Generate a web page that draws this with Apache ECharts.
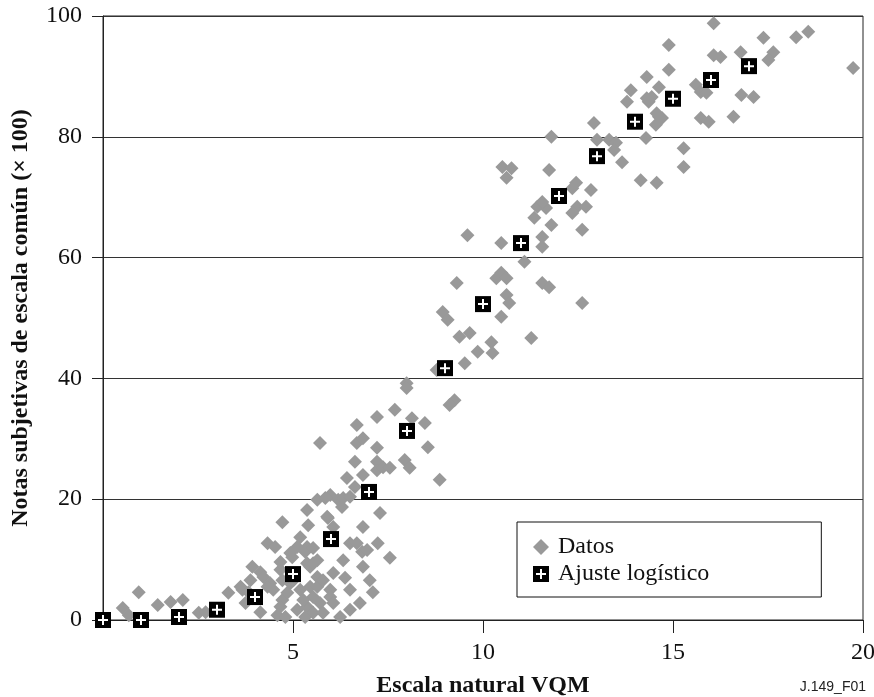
<!DOCTYPE html>
<html>
<head>
<meta charset="utf-8">
<title>J.149_F01</title>
<script src="https://cdn.jsdelivr.net/npm/echarts@6/dist/echarts.min.js"></script>
<style>
  html, body { margin: 0; padding: 0; background: #fff; }
  #chart { width: 874px; height: 697px; }
</style>
</head>
<body>
<div id="chart"></div>
<script>
// Datos (escala natural VQM, notas subjetivas x 100)
const datosVqm = [
  0.52, 0.68, 0.94, 1.44, 1.78, 2.10, 2.52, 2.70, 3.30, 3.67, 3.75, 3.62, 3.83, 3.88, 3.93, 4.14, 4.14, 4.22,
  4.33, 4.53, 4.40, 4.72, 4.33, 4.48, 4.67, 4.67, 4.72, 4.72, 4.67, 4.59, 4.80, 4.85, 4.93, 4.93, 4.98, 5.01,
  5.11, 5.19, 5.19, 5.11, 5.32, 5.37, 5.32, 5.37, 5.40, 5.37, 5.37, 5.45, 5.45, 5.53, 5.53, 5.53, 5.53, 5.64,
  5.64, 5.64, 5.64, 5.71, 5.71, 5.79, 5.79, 5.90, 5.98, 5.98, 5.98, 6.06, 6.06, 6.06, 6.19, 6.24, 6.32, 6.32,
  6.29, 6.37, 6.50, 6.50, 6.50, 6.50, 6.68, 6.76, 6.82, 6.84, 6.84, 6.95, 7.02, 7.10, 7.23, 7.29, 7.55, 5.27,
  5.85, 5.92,
  6.42, 6.63, 6.63, 6.68, 6.68, 6.84, 6.84, 7.21, 7.21, 7.21, 7.21, 7.37, 7.55, 7.68, 7.94, 8.07, 8.13, 8.47,
  8.55, 8.86, 7.99, 7.99, 9.25, 9.12,
  8.78, 9.38, 9.65, 9.52, 9.86, 10.22, 10.25, 8.94, 9.07, 9.31, 9.59, 10.48, 10.48, 10.62, 10.69, 10.35, 10.48,
  10.62, 11.09, 11.56, 11.74, 11.27, 12.61,
  10.51, 10.75, 10.62, 11.74, 11.80, 12.45, 12.35, 12.84, 11.43, 11.66, 11.56, 12.48, 12.71, 12.35, 11.35,
  11.80, 12.61, 11.56, 11.56,
  12.92, 13.00, 13.32, 13.50, 13.45, 13.66, 13.79, 14.36, 14.63, 14.55, 14.29, 14.15, 14.57, 15.28, 15.28,
  13.89, 14.31, 14.63, 14.44, 14.31, 14.89, 14.89, 15.60, 15.73, 15.88, 16.07, 16.07, 16.25, 16.78, 16.80,
  17.12, 17.38, 17.64, 17.51, 18.24, 18.56, 19.74, 14.57, 14.71, 15.73, 15.94, 16.59
]
const datosNotas = [
  2.0, 0.8, 4.6, 2.5, 3.0, 3.3, 1.2, 1.3, 4.5, 5.0, 2.8, 5.5, 4.6, 6.6, 8.8, 7.9, 1.3, 7.1,
  12.7, 12.1, 6.1, 16.2, 5.5, 5.0, 8.3, 9.6, 6.6, 3.3, 2.2, 0.8, 0.5, 4.5, 6.1, 11.1, 10.4, 6.6,
  12.1, 13.7, 5.0, 1.7, 0.5, 2.2, 11.3, 18.2, 15.7, 9.4, 12.1, 8.8, 5.5, 11.9, 9.4, 3.8, 1.2, 19.9,
  7.1, 5.5, 9.9, 2.8, 29.3, 1.2, 6.6, 17.1, 20.7, 5.0, 3.8, 7.8, 2.8, 15.4, 19.9, 0.5, 9.9, 20.2,
  18.7, 7.0, 20.4, 5.0, 12.7, 1.7, 12.7, 2.8, 11.3, 8.8, 15.4, 11.6, 6.6, 4.6, 12.7, 17.7, 10.3, 3.3,
  20.2, 16.9,
  23.5, 26.2, 22.0, 32.3, 29.3, 30.1, 24.0, 33.6, 28.5, 26.2, 24.8, 25.3, 25.2, 34.8, 26.5, 25.2, 33.4, 32.6,
  28.6, 23.2, 39.2, 38.4, 36.4, 35.6,
  41.4, 46.9, 47.5, 42.5, 44.4, 46.0, 44.2, 51.0, 49.7, 55.8, 63.7, 62.4, 50.2, 53.8, 52.5, 56.6, 57.5,
  56.6, 59.3, 55.8, 55.1, 46.7, 52.5,
  75.0, 74.8, 73.2, 74.5, 80.0, 72.4, 71.5, 71.2, 68.4, 68.2, 69.2, 68.4, 68.4, 67.4, 66.6,
  65.4, 64.6, 63.4, 61.8,
  82.3, 79.5, 79.5, 79.0, 77.8, 75.8, 85.8, 85.8, 83.3, 82.0, 79.8, 72.8, 72.4, 78.1, 75.0,
  87.7, 89.9, 88.2, 86.6, 86.4, 95.2, 91.1, 88.6, 87.4, 87.3, 98.8, 93.5, 93.2, 94.0, 86.9,
  86.6, 96.4, 94.0, 92.7, 96.5, 97.4, 91.4, 83.9, 83.1, 83.1, 82.5, 83.3
]

// Ajuste logístico
const ajusteVqm = [0, 1, 2, 3, 4, 5, 6, 7, 8, 9, 10, 11, 12, 13, 14, 15, 16, 17]
const ajusteNotas = [0, 0, 0.5, 1.7, 3.8, 7.6, 13.4, 21.2, 31.3, 41.7, 52.3, 62.4, 70.2, 76.8, 82.5, 86.3, 89.4, 91.7]

const xTicks = [5, 10, 15, 20]

const serif = 'Liberation Serif'
// black square with a white plus cut out
const fitIcon = 'path://M0,0L16,0L16,16L0,16Z M7,3L7,7L3,7L3,9L7,9L7,13L9,13L9,9L13,9L13,7L9,7L9,3Z'
const plusIcon = 'path://M7,3L9,3L9,7L13,7L13,9L9,9L9,13L7,13L7,9L3,9L3,7L7,7Z'

const chart = echarts.init(document.getElementById('chart'), null, { renderer: 'canvas' })

chart.setOption({
  backgroundColor: '#fff',
  animation: false,
  grid: {
    left: 103,
    right: 11,
    top: 16,
    bottom: 77,
    outerBoundsMode: 'none',
    containLabel: false,
    show: true,
    borderColor: '#222',
    borderWidth: 1
  },
  legend: {
    left: 517,
    top: 522,
    orient: 'vertical',
    padding: [13, 112, 11, 16],
    borderColor: '#111',
    borderWidth: 1,
    itemWidth: 16,
    itemHeight: 16,
    itemGap: 3,
    textStyle: { fontFamily: serif, fontSize: 24, color: '#111', padding: [0, 0, 0, 4] },
    data: [
      { name: 'Datos', icon: 'diamond', itemStyle: { color: '#999' } },
      { name: 'Ajuste logístico', icon: fitIcon, itemStyle: { color: '#000' } }
    ]
  },
  xAxis: {
    type: 'value',
    min: 0,
    max: 20,
    name: 'Escala natural VQM',
    nameLocation: 'middle',
    nameGap: 54,
    nameTextStyle: { fontFamily: serif, fontSize: 24, fontWeight: 'bold', color: '#111' },
    axisLine: { show: true, lineStyle: { color: '#222', width: 1 } },
    axisTick: { show: true, inside: false, length: 13, customValues: xTicks, lineStyle: { color: '#222' } },
    axisLabel: { customValues: xTicks, margin: 21, fontFamily: serif, fontSize: 24, color: '#111' },
    splitLine: { show: false }
  },
  yAxis: {
    type: 'value',
    min: 0,
    max: 100,
    interval: 20,
    name: 'Notas subjetivas de escala común (× 100)',
    nameLocation: 'middle',
    nameGap: 70,
    nameTextStyle: { fontFamily: serif, fontSize: 24, fontWeight: 'bold', color: '#111' },
    axisLine: { show: true, lineStyle: { color: '#222', width: 1 } },
    axisTick: { show: true, length: 11, lineStyle: { color: '#222' } },
    axisLabel: { margin: 21, fontFamily: serif, fontSize: 24, color: '#111' },
    splitLine: { show: true, lineStyle: { color: '#333', width: 1 } }
  },
  graphic: [
    {
      type: 'text',
      right: 8,
      top: 680,
      style: { text: 'J.149_F01', font: '14px "Liberation Sans"', fill: '#222' }
    }
  ],
  series: [
    {
      name: 'Datos',
      type: 'scatter',
      symbol: 'diamond',
      symbolSize: 14,
      itemStyle: { color: '#999', opacity: 1 },
      z: 2,
      data: datosVqm.map((v, i) => [v, datosNotas[i]])
    },
    {
      name: 'Ajuste logístico',
      type: 'scatter',
      symbol: 'rect',
      symbolSize: 16,
      itemStyle: { color: '#000', opacity: 1 },
      z: 3,
      data: ajusteVqm.map((v, i) => [v, ajusteNotas[i]])
    },
    {
      name: 'cruz',
      type: 'scatter',
      symbol: plusIcon,
      symbolSize: 10,
      silent: true,
      itemStyle: { color: '#fff', opacity: 1 },
      z: 4,
      data: ajusteVqm.map((v, i) => [v, ajusteNotas[i]])
    }
  ]
})
</script>
</body>
</html>
